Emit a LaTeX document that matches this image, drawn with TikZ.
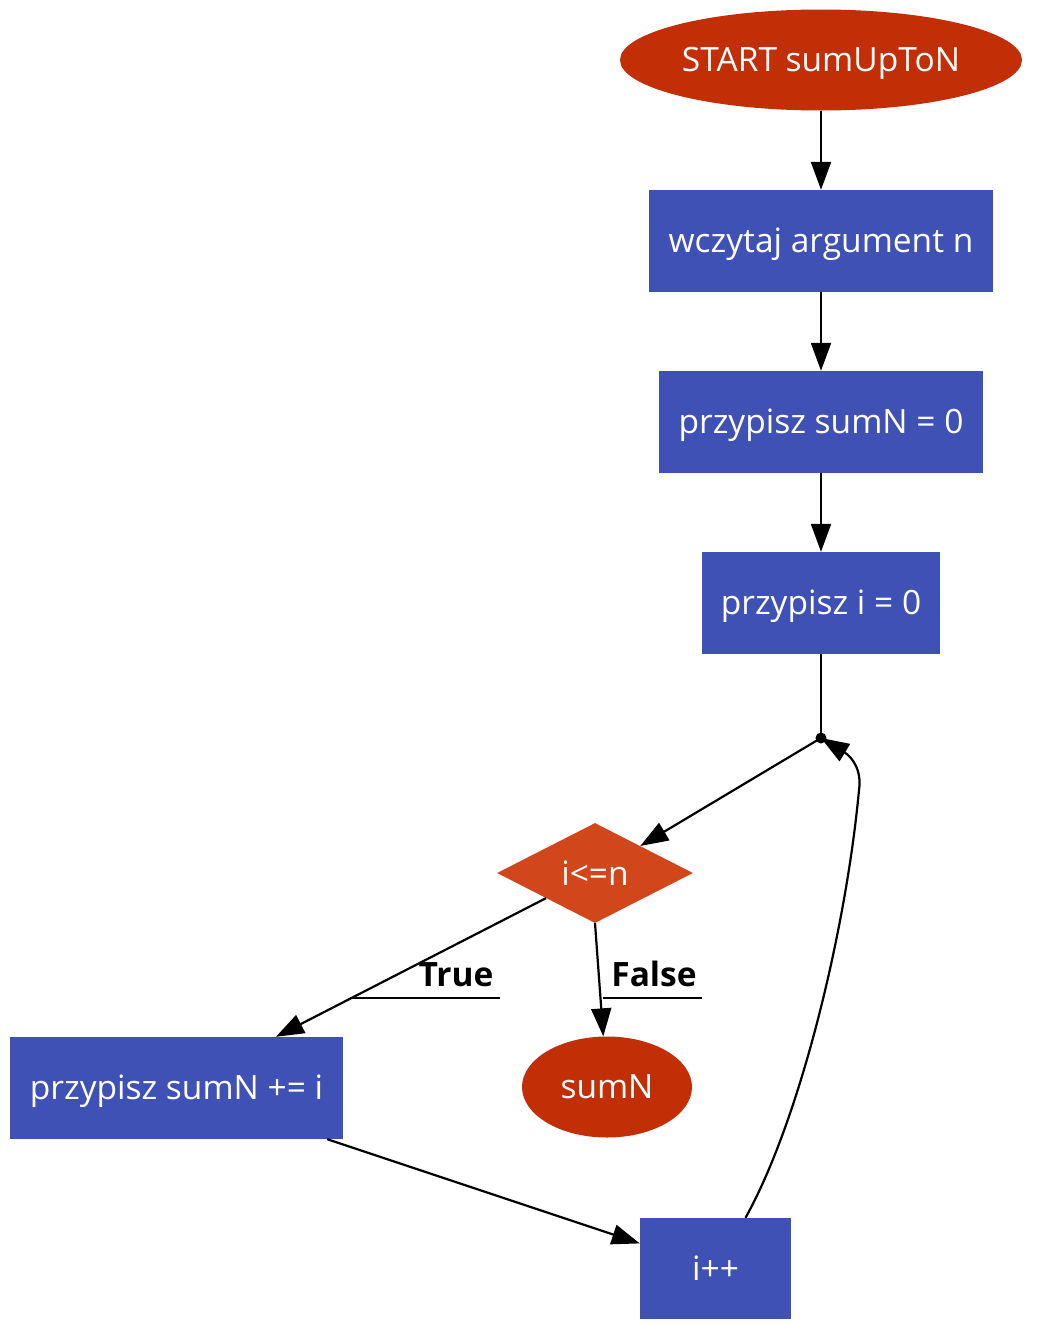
\documentclass[tikz,border=0pt]{standalone}
\usepackage{fontspec}
\setmainfont{Open Sans}
\usetikzlibrary{shapes.geometric,arrows.meta}
\definecolor{termc}{HTML}{C22E06}
\definecolor{procc}{HTML}{3F51B5}
\definecolor{decc}{HTML}{D2461C}
\newcommand{\dnt}[1]{\raisebox{-3.5pt}[\height][\depth]{#1}}
\begin{document}
\begin{tikzpicture}[x=1pt,y=-1pt,
  every node/.style={font=\fontsize{33.5}{38}\selectfont, text=white, inner sep=0pt},
  term/.style={ellipse, fill=termc, minimum width=#1, minimum height=101},
  proc/.style={rectangle, fill=procc, minimum width=#1, minimum height=102},
  dec/.style={diamond, fill=decc, minimum width=196, minimum height=100, aspect=1.96},
  conn/.style={line width=2.2pt, -{Triangle[length=28,width=20]}},
  plain/.style={line width=2.2pt},
  lab/.style={font=\fontsize{33.5}{38}\selectfont\bfseries, text=black}
]
\useasboundingbox (0,0) rectangle (1047,1344);
\node[term=402] (start) at (821,60) {\dnt{START sumUpToN}};
\node[proc=344] (read) at (821,241) {\dnt{wczytaj argument n}};
\node[proc=324] (sum0) at (821,422) {\dnt{przypisz sumN = 0}};
\node[proc=238] (i0) at (821,603) {\dnt{przypisz i = 0}};
\coordinate (j) at (821,738);
\fill (j) circle (5.5);
\node[dec] (cond) at (595,873) {i<=n};
\node[proc=333] (add) at (176.5,1088) {\dnt{przypisz sumN += i}};
\node[term=170] (res) at (607,1087) {sumN};
\node[proc=151, minimum height=101] (inc) at (715.5,1268.5) {i++};

\draw[conn] (start) -- (read);
\draw[conn] (read) -- (sum0);
\draw[conn] (sum0) -- (i0);
\draw[plain] (i0) -- (j);
\draw[conn] (j) -- (cond);
\draw[conn] (cond) -- (add);
\draw[conn] (cond.south) -- (res);
\draw[conn] (add.south east) ++(-16,0) coordinate (a1) -- (inc);
\draw[conn] (inc.north) ++(30,0) .. controls (800,1120) and (846,930) .. (859,790) .. controls (862,770) and (852,757) .. (j);

\node[lab, anchor=base] (tl) at (456,986) {True};
\draw[plain] (350,998) -- (500,998);
\node[lab, anchor=base] (fl) at (654,986) {False};
\draw[plain] (603,998) -- (702,998);
\end{tikzpicture}
\end{document}
